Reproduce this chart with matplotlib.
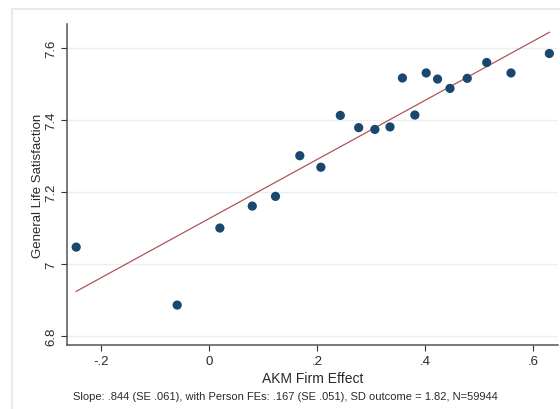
import numpy as np
import matplotlib.pyplot as plt
from matplotlib.lines import Line2D

plt.rcParams['font.family'] = ['Liberation Sans', 'DejaVu Sans']

# binned means
firm_effect = [-0.246, -0.059, 0.020, 0.080, 0.123, 0.168, 0.207, 0.243, 0.277, 0.307,
               0.335, 0.358, 0.381, 0.402, 0.423, 0.446, 0.478, 0.514, 0.559, 0.630]
life_sat = [7.047, 6.886, 7.100, 7.161, 7.188, 7.301, 7.269, 7.413, 7.379, 7.374,
            7.381, 7.517, 7.414, 7.531, 7.514, 7.488, 7.516, 7.560, 7.531, 7.585]

# fitted line end points
fit_x = [-0.246, 0.630]
fit_y = [6.924, 7.644]

x_ticks = [-0.2, 0, 0.2, 0.4, 0.6]
x_ticklabels = ["-.2", "0", ".2", ".4", ".6"]
y_ticks = [6.8, 7.0, 7.2, 7.4, 7.6]
y_ticklabels = ["6.8", "7", "7.2", "7.4", "7.6"]

note = "Slope: .844 (SE .061), with Person FEs: .167 (SE .051), SD outcome = 1.82, N=59944"

W, H = 560, 410
fig = plt.figure(figsize=(W / 100, H / 100), dpi=100)
ax = fig.add_axes([67 / W, 1 - 346 / H, (558 - 67) / W, (346 - 25) / H])

# outer graph region frame (cropped on right and bottom)
border = '#e3ebee'
fig.add_artist(Line2D([12 / W, 12 / W], [0, 1 - 10 / H], color=border, lw=1.5, transform=fig.transFigure))
fig.add_artist(Line2D([12 / W, 1], [1 - 10 / H, 1 - 10 / H], color=border, lw=1.5, transform=fig.transFigure))

ax.plot(fit_x, fit_y, color='#b0545a', lw=0.9, zorder=2)
ax.scatter(firm_effect, life_sat, s=44, color='#1a476f', edgecolors='none', zorder=3)

ax.set_xlim(-0.263, 0.646)
ax.set_ylim(6.775, 7.667)
ax.set_xticks(x_ticks)
ax.set_xticklabels(x_ticklabels)
ax.set_yticks(y_ticks)
ax.set_yticklabels(y_ticklabels, rotation=90, va='center')
ax.tick_params(direction='out', length=4, width=0.8, color='#333333', labelsize=9.5,
               labelcolor='#2a2a2a', pad=3)

ax.grid(axis='y', color='#eaf1f3', lw=1.0)
ax.set_axisbelow(True)
for s in ['top', 'right']:
    ax.spines[s].set_visible(False)
for s in ['left', 'bottom']:
    ax.spines[s].set_color('#555555')
    ax.spines[s].set_linewidth(1.1)

ax.set_xlabel("AKM Firm Effect", fontsize=10, color='#2a2a2a', labelpad=3)
ax.set_ylabel("General Life Satisfaction", fontsize=9.5, color='#2a2a2a', labelpad=1)

fig.text(73 / W, 1 - 397 / H, note, fontsize=8.0, color='#2a2a2a', va='center', ha='left')

fig.savefig('out.png', dpi=100)
